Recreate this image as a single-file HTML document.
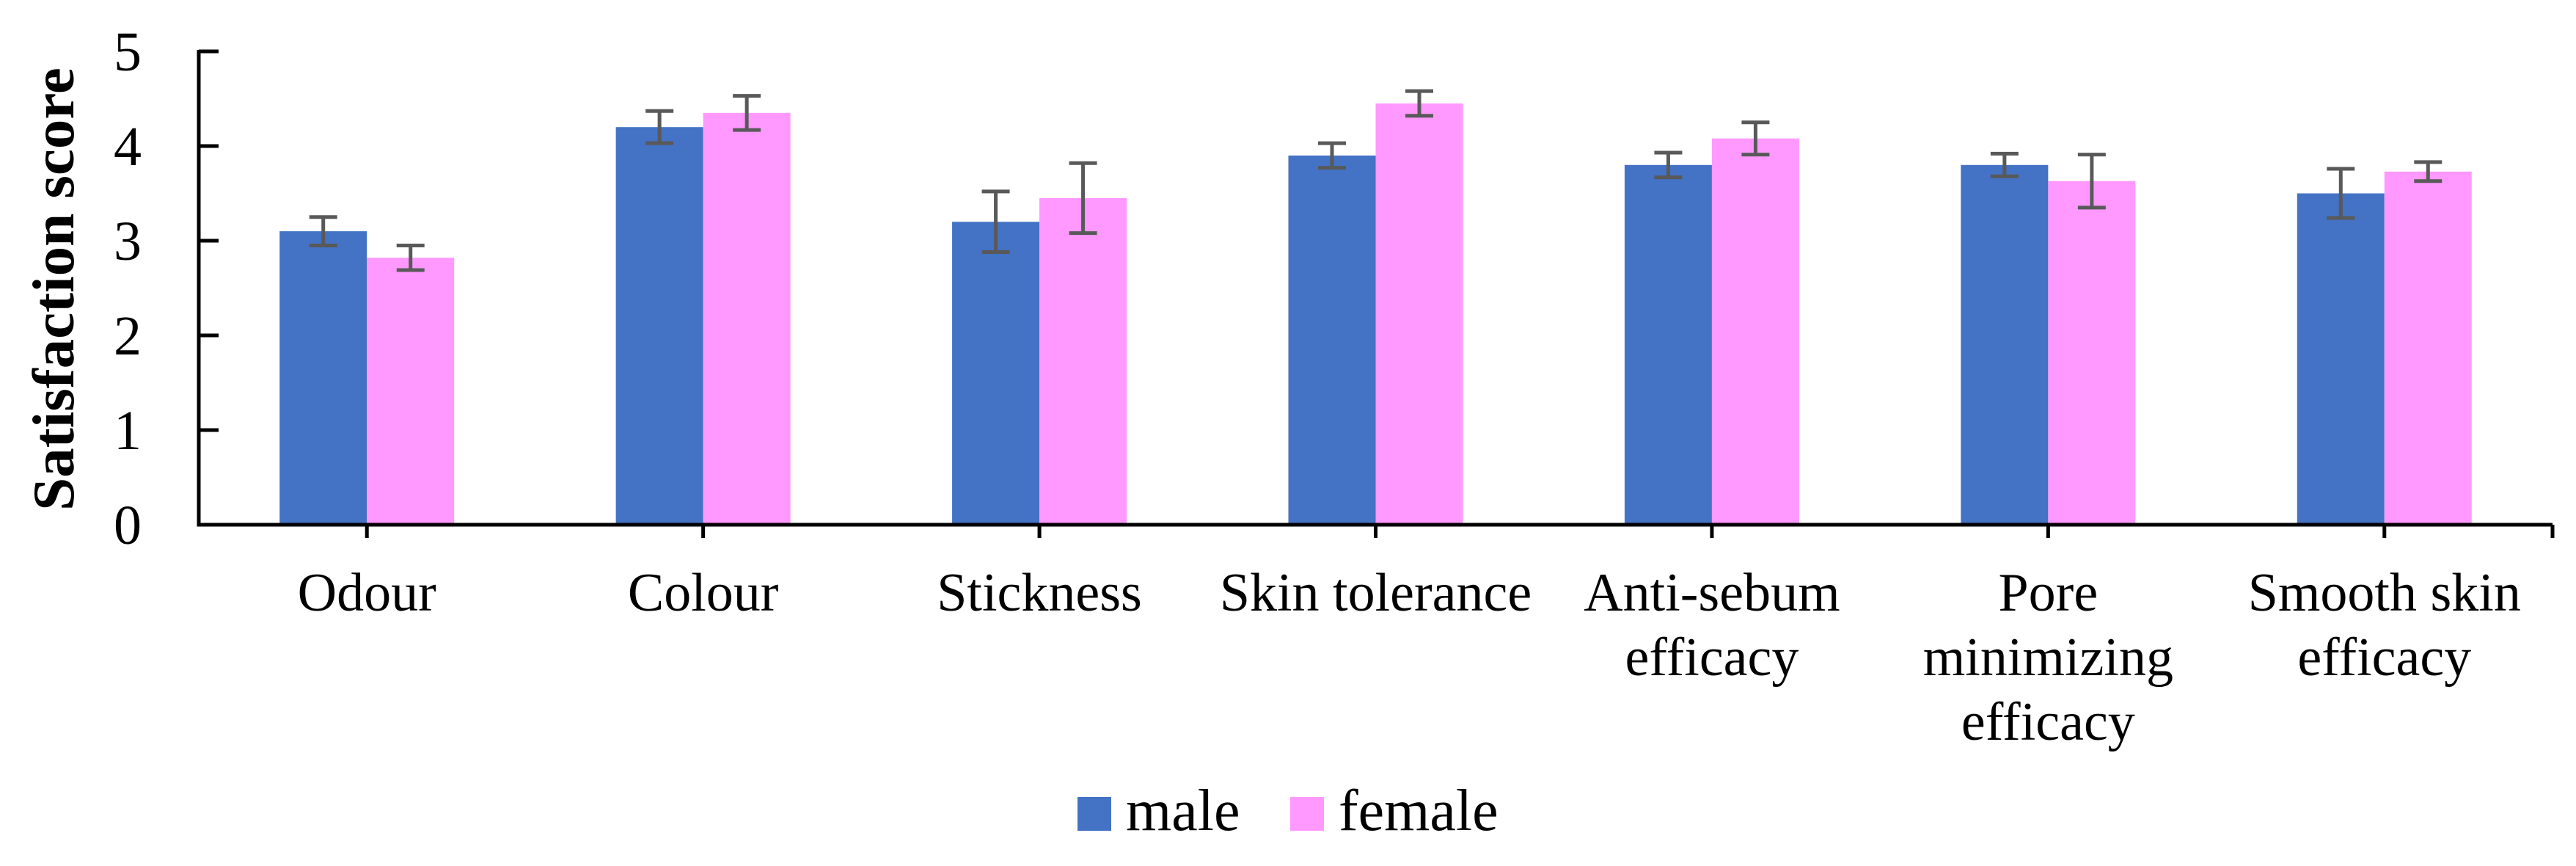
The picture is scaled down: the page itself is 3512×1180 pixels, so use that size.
<!DOCTYPE html>
<html><head><meta charset="utf-8"><style>
html,body{margin:0;padding:0;background:#fff;}
svg{display:block;font-family:"Liberation Serif",serif;}
</style></head><body>
<svg id="chart" width="3512" height="1180" viewBox="0 0 3512 1180" xmlns="http://www.w3.org/2000/svg">
<g id="plot"></g>
<text transform="translate(100,394) rotate(-90)" text-anchor="middle" font-size="81" font-weight="bold">Satisfaction score</text>
<g>
<rect x="1469" y="1086" width="46" height="46" fill="#4472C4"/>
<text x="1535" y="1131" font-size="80">male</text>
<rect x="1759" y="1086" width="46" height="46" fill="#FF99FF"/>
<text x="1825" y="1131" font-size="80">female</text>
</g>
</svg>
<script>
const categories = [["Odour"],["Colour"],["Stickness"],["Skin tolerance"],["Anti-sebum","efficacy"],["Pore","minimizing","efficacy"],["Smooth skin","efficacy"]];
const maleValues = [3.1,4.2,3.2,3.9,3.8,3.8,3.5];
const maleErrors = [0.15,0.17,0.32,0.13,0.13,0.12,0.26];
const femaleValues = [2.82,4.35,3.45,4.45,4.08,3.63,3.73];
const femaleErrors = [0.13,0.18,0.37,0.13,0.17,0.28,0.1];
const yTicks = [0,1,2,3,4,5];

const NS = "http://www.w3.org/2000/svg";
const g = document.getElementById('plot');
const X0 = 271, X1 = 3480, Y0 = 715, Y5 = 70;
const groupW = (X1 - X0) / categories.length;
const barW = 119;
function y(v){ return Y0 - (v / 5) * (Y0 - Y5); }
function cx(i){ return X0 + (i + 0.5) * groupW; }
function mk(tag, attrs){ const e = document.createElementNS(NS, tag); for (const k in attrs) e.setAttribute(k, attrs[k]); g.appendChild(e); return e; }

function drawSeries(vals, errs, offset, color, name){
  vals.forEach((v, i) => {
    const x = cx(i) + offset;
    const r = mk('rect', {x: x, y: y(v), width: barW, height: Y0 - y(v), fill: color});
    
    
    const mx = x + barW / 2, hi = y(v + errs[i]), lo = y(v - errs[i]);
    const eb = mk('path', {d: `M${mx},${hi}V${lo}M${mx-19},${hi}H${mx+19}M${mx-19},${lo}H${mx+19}`, stroke: '#595959', 'stroke-width': 5, fill: 'none'});
    
    
  });
}
drawSeries(maleValues, maleErrors, -barW, '#4472C4', 'male');
drawSeries(femaleValues, femaleErrors, 0, '#FF99FF', 'female');

const ax = mk('path', {d: `M${X0},${Y5-2}V${Y0}H${X1}`, stroke: '#000', 'stroke-width': 5, fill: 'none'});



yTicks.forEach(t => {
  const tk = mk('line', {x1: X0, x2: X0 + 27, y1: y(t), y2: y(t), stroke: '#000', 'stroke-width': 5});
  
  
  const lb = mk('text', {x: 193, y: y(t) + 26, 'text-anchor': 'end', 'font-size': 76});
  
  
  lb.textContent = t;
});

categories.forEach((lines, i) => {
  const tk = mk('line', {x1: cx(i), x2: cx(i), y1: Y0, y2: Y0 + 18, stroke: '#000', 'stroke-width': 5});
  
  
  lines.forEach((s, j) => {
    const t = mk('text', {x: cx(i), y: 832 + j * 88, 'text-anchor': 'middle', 'font-size': 74});
    
    
    t.textContent = s;
  });
});
const et = mk('line', {x1: X1, x2: X1, y1: Y0, y2: Y0 + 18, stroke: '#000', 'stroke-width': 5});


</script>
</body></html>
